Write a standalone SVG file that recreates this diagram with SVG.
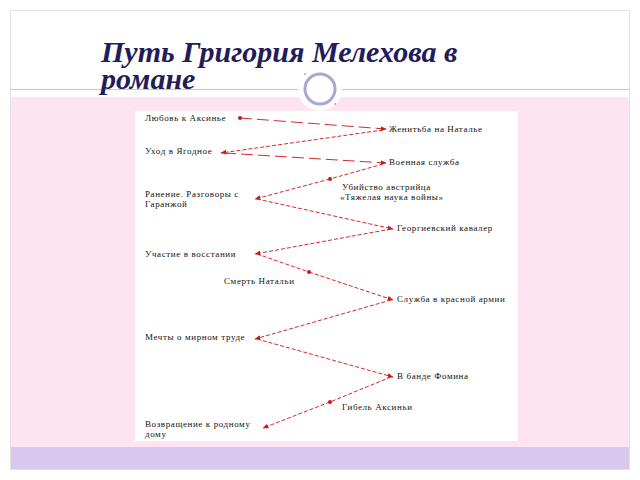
<svg xmlns="http://www.w3.org/2000/svg" width="640" height="480" viewBox="0 0 640 480">
<style>
.t{font-family:"Liberation Serif","Times New Roman",serif;font-size:9px;letter-spacing:0.6px;fill:#111;}
.title{font-family:"Liberation Serif","Times New Roman",serif;font-size:30px;font-weight:bold;font-style:italic;fill:#221c5a;}
.ld{fill:none;stroke:#d42a2a;stroke-width:1;stroke-dasharray:12 5;}
.sd{fill:none;stroke:#d42a2a;stroke-width:1;stroke-dasharray:4 2;}
.dot{fill:#c81818;}
</style>
<defs>
<marker id="arr" viewBox="0 0 10 10" refX="9" refY="5" markerWidth="6" markerHeight="6" markerUnits="userSpaceOnUse" orient="auto">
<path d="M0,1 L10,5 L0,9 Z" fill="#c81818"/>
</marker>
</defs>
<rect x="0" y="0" width="640" height="480" fill="#ffffff"/>
<rect x="10.5" y="10.5" width="619" height="459" fill="#ffffff" stroke="#e2e2e2"/>
<rect x="11" y="97" width="618" height="350" fill="#fde4f0"/>
<rect x="11" y="447" width="618" height="22" fill="#d6c8ef"/>
<line x1="11" y1="89.5" x2="629" y2="89.5" stroke="#c8c8c8" stroke-width="1"/>
<circle cx="320" cy="89" r="22" fill="#ffffff"/>
<circle cx="320" cy="89" r="15" fill="none" stroke="#aaa8d2" stroke-width="3"/>
<circle cx="305" cy="74" r="1" fill="#aaa8c0"/>
<circle cx="335" cy="104" r="1" fill="#aaa8c0"/>
<text class="title" x="101" y="62">Путь Григория Мелехова в</text>
<text class="title" x="101" y="89">романе</text>
<rect x="135" y="111" width="383" height="330" fill="#ffffff"/>
<g id="connectors">
<line class="ld" x1="240" y1="118" x2="386" y2="129" marker-end="url(#arr)"/>
<line class="sd" x1="383" y1="130" x2="221" y2="153" marker-end="url(#arr)"/>
<line class="ld" x1="224" y1="153" x2="386" y2="163" marker-end="url(#arr)"/>
<line class="sd" x1="383" y1="164" x2="330" y2="179"/>
<line class="sd" x1="330" y1="179" x2="255" y2="199" marker-end="url(#arr)"/>
<line class="sd" x1="257" y1="199" x2="393" y2="229" marker-end="url(#arr)"/>
<line class="sd" x1="391" y1="229" x2="255" y2="254" marker-end="url(#arr)"/>
<line class="sd" x1="257" y1="254" x2="309" y2="272"/>
<line class="sd" x1="309" y1="272" x2="393" y2="300" marker-end="url(#arr)"/>
<line class="sd" x1="391" y1="300" x2="255" y2="339" marker-end="url(#arr)"/>
<line class="sd" x1="257" y1="339" x2="393" y2="377" marker-end="url(#arr)"/>
<line class="sd" x1="391" y1="377" x2="330" y2="402"/>
<line class="sd" x1="330" y1="402" x2="263" y2="428" marker-end="url(#arr)"/>
<circle class="dot" cx="240" cy="118" r="2"/>
<circle class="dot" cx="330" cy="179" r="2"/>
<circle class="dot" cx="309" cy="272" r="2"/>
<circle class="dot" cx="330" cy="402" r="2"/>
</g>
<g id="n1"><text class="t" x="145" y="121">Любовь к Аксинье</text></g>
<g id="n2"><text class="t" x="389" y="132">Женитьба на Наталье</text></g>
<g id="n3"><text class="t" x="145" y="154">Уход в Ягодное</text></g>
<g id="n4"><text class="t" x="389" y="165">Военная служба</text></g>
<g id="n5"><text class="t" x="342" y="190">Убийство австрийца</text><text class="t" x="340" y="200">«Тяжелая наука войны»</text></g>
<g id="n6"><text class="t" x="145" y="197">Ранение. Разговоры с</text><text class="t" x="145" y="207">Гаранжой</text></g>
<g id="n7"><text class="t" x="397" y="231">Георгиевский кавалер</text></g>
<g id="n8"><text class="t" x="145" y="257">Участие в восстании</text></g>
<g id="n9"><text class="t" x="224" y="284">Смерть Натальи</text></g>
<g id="n10"><text class="t" x="397" y="302">Служба в красной армии</text></g>
<g id="n11"><text class="t" x="145" y="340">Мечты о мирном труде</text></g>
<g id="n12"><text class="t" x="397" y="379">В банде Фомина</text></g>
<g id="n13"><text class="t" x="342" y="410">Гибель Аксиньи</text></g>
<g id="n14"><text class="t" x="145" y="427">Возвращение к родному</text><text class="t" x="145" y="437">дому</text></g>
</svg>
